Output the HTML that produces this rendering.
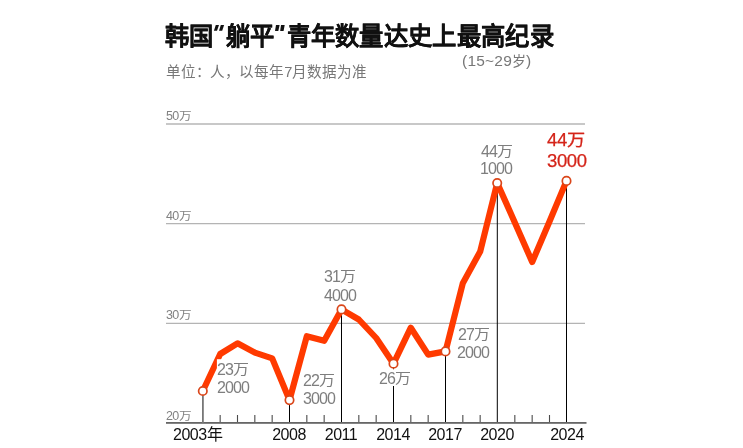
<!DOCTYPE html>
<html lang="zh-CN">
<head>
<meta charset="utf-8">
<style>
html,body{margin:0;padding:0;background:#fff;}
body{width:743px;height:448px;overflow:hidden;position:relative;font-family:"Liberation Sans",sans-serif;}
.t{position:absolute;white-space:nowrap;line-height:1;will-change:transform;}
#title{left:165px;top:24px;font-size:24px;font-weight:bold;color:#111;-webkit-text-stroke:0.15px #111;transform-origin:0 0;transform:scale(1.013,1.05);}
#sub{left:165.5px;top:64.5px;font-size:14.6px;color:#777;}
#age{left:462px;top:52.6px;font-size:14px;color:#777;}
.an{font-size:15.5px;letter-spacing:0.22px;}
.yl{font-size:12.5px;color:#828282;left:166px;}
.yn{letter-spacing:-0.6px;}
.yw{display:inline-block;font-size:11.5px;transform-origin:0 50%;transform:scaleX(1.1);position:relative;top:-0.4px;}
.dl{font-size:14px;color:#7e7e7e;}
.dl .n{font-size:16px;letter-spacing:-0.9px;}
.w{display:inline-block;transform-origin:0 50%;transform:scaleX(1.14);margin-left:0.2px;position:relative;top:-0.8px;}
.rl{font-size:17px;color:#d42318;-webkit-text-stroke:0.25px #d42318;}
.rl .w{font-size:17px;margin-left:0px;vertical-align:-1.5px;top:-2px;transform:scaleX(1.07);}
.rl .n{font-size:18.5px;letter-spacing:-0.4px;}
.xl{font-size:16px;color:#111;top:427px;letter-spacing:-0.5px;}
.xc{width:60px;text-align:center;}
svg{position:absolute;left:0;top:0;}
.q{color:transparent;-webkit-text-stroke:0;}
</style>
</head>
<body>
<svg width="743" height="448" viewBox="0 0 743 448">
  <line x1="166" y1="124" x2="585" y2="124" stroke="#c8c8c8" stroke-width="1.8"/>
  <line x1="166" y1="223.6" x2="585" y2="223.6" stroke="#b4b4b4" stroke-width="1.2"/>
  <line x1="166" y1="323.3" x2="585" y2="323.3" stroke="#b4b4b4" stroke-width="1.3"/>
  <rect x="166" y="422" width="420.5" height="1.8" fill="#666"/>
  <g stroke="#4a4a4a" stroke-width="1.1" id="ticks"><line x1="220.16" y1="415" x2="220.16" y2="422"/><line x1="237.50" y1="415" x2="237.50" y2="422"/><line x1="254.83" y1="415" x2="254.83" y2="422"/><line x1="272.16" y1="415" x2="272.16" y2="422"/><line x1="306.83" y1="415" x2="306.83" y2="422"/><line x1="324.16" y1="415" x2="324.16" y2="422"/><line x1="358.83" y1="415" x2="358.83" y2="422"/><line x1="376.16" y1="415" x2="376.16" y2="422"/><line x1="410.83" y1="415" x2="410.83" y2="422"/><line x1="428.16" y1="415" x2="428.16" y2="422"/><line x1="462.83" y1="415" x2="462.83" y2="422"/><line x1="480.16" y1="415" x2="480.16" y2="422"/><line x1="514.83" y1="415" x2="514.83" y2="422"/><line x1="532.16" y1="415" x2="532.16" y2="422"/><line x1="549.50" y1="415" x2="549.50" y2="422"/></g>
  <line x1="202.9" y1="391" x2="202.9" y2="423" stroke="#777" stroke-width="1.8"/>
  <g stroke="#000" stroke-width="1">
    <line x1="289.5" y1="400" x2="289.5" y2="422"/>
    <line x1="341.5" y1="309" x2="341.5" y2="422"/>
    <line x1="393.5" y1="386" x2="393.5" y2="422"/>
    <line x1="393.5" y1="364" x2="393.5" y2="369.3" stroke-width="0.8"/>
    <line x1="445.5" y1="351.4" x2="445.5" y2="422"/>
    <line x1="497.3" y1="183" x2="497.3" y2="422"/>
    <line x1="566.5" y1="181" x2="566.5" y2="422"/>
  </g>
  <polyline fill="none" stroke="#ff3a00" stroke-width="6.2" stroke-linejoin="round" stroke-linecap="round"
    points="202.8,391.0 220.2,354.0 237.5,343.3 254.8,352.6 272.2,358.4 289.5,400.1 306.8,336.2 324.2,340.8 341.5,309.4 358.8,319.5 376.2,338.0 393.5,363.7 410.8,327.7 428.2,354.6 445.5,351.4 462.8,283.3 480.2,251.5 497.2,183.0 514.8,222.5 532.2,262.0 549.5,221.5 566.5,180.9"/>
  <rect x="216.9" y="359.2" width="32" height="36" fill="#fff"/>
  <g fill="#fff" stroke="#da461a" stroke-width="1.7">
    <circle cx="202.8" cy="391.0" r="4.2"/>
    <circle cx="289.5" cy="400.1" r="4.2"/>
    <circle cx="341.5" cy="309.4" r="4.2"/>
    <circle cx="393.5" cy="363.7" r="4.2"/>
    <circle cx="445.5" cy="351.4" r="4.2"/>
    <circle cx="497.2" cy="183.0" r="4.2"/>
    <circle cx="566.5" cy="180.9" r="4.2"/>
  </g>
  <g fill="#111">
    <polygon points="215.8,25.0 219.0,25.0 217.0,30.8 213.9,30.8"/>
    <polygon points="220.8,25.0 224.1,25.0 222.2,30.8 219.0,30.8"/>
    <polygon points="276.0,25.0 279.6,25.0 278.3,30.9 275.0,30.9"/>
    <polygon points="281.0,25.0 284.7,25.0 283.6,30.9 280.2,30.9"/>
  </g>
</svg>
<div class="t" id="title">韩国<span class="q">“</span>躺平<span class="q">”</span>青年数量达史上最高纪录</div>
<div class="t" id="sub">单位<span style="letter-spacing:-0.8px">：</span>人<span style="letter-spacing:-1px">，</span>以每年7月数据为准</div>
<div class="t" id="age"><span class="an">(15~29</span>岁<span class="an">)</span></div>
<div class="t yl" style="top:110.0px"><span class="yn">50</span><span class="yw">万</span></div>
<div class="t yl" style="top:209.7px"><span class="yn">40</span><span class="yw">万</span></div>
<div class="t yl" style="top:309.3px"><span class="yn">30</span><span class="yw">万</span></div>
<div class="t yl" style="top:409.5px"><span class="yn">20</span><span class="yw">万</span></div>
<div class="t dl" style="left:216.8px;top:361.9px"><span class="n">23</span><span class="w">万</span></div>
<div class="t dl" style="left:217.1px;top:380.2px"><span class="n">2000</span></div>
<div class="t dl" style="left:302.5px;top:373.0px"><span class="n">22</span><span class="w">万</span></div>
<div class="t dl" style="left:302.5px;top:390.9px"><span class="n">3000</span></div>
<div class="t dl" style="left:323.8px;top:269.0px"><span class="n">31</span><span class="w">万</span></div>
<div class="t dl" style="left:323.5px;top:287.5px"><span class="n">4000</span></div>
<div class="t dl" style="left:379.2px;top:370.6px"><span class="n">26</span><span class="w">万</span></div>
<div class="t dl" style="left:457.5px;top:326.9px"><span class="n">27</span><span class="w">万</span></div>
<div class="t dl" style="left:457.3px;top:345.4px"><span class="n">2000</span></div>
<div class="t dl" style="left:481.0px;top:143.5px"><span class="n">44</span><span class="w">万</span></div>
<div class="t dl" style="left:480.0px;top:160.9px"><span class="n">1000</span></div>
<div class="t rl" style="left:547.4px;top:130.5px"><span class="n">44</span><span class="w">万</span></div>
<div class="t rl" style="left:546.5px;top:152.0px"><span class="n">3000</span></div>
<div class="t xl" style="left:172.6px">2003年</div>
<div class="t xl xc" style="left:259.4px">2008</div>
<div class="t xl xc" style="left:311.4px">2011</div>
<div class="t xl xc" style="left:363.3px">2014</div>
<div class="t xl xc" style="left:415.3px">2017</div>
<div class="t xl xc" style="left:467.2px">2020</div>
<div class="t xl xc" style="left:536.5px">2024</div>
</body>
</html>
